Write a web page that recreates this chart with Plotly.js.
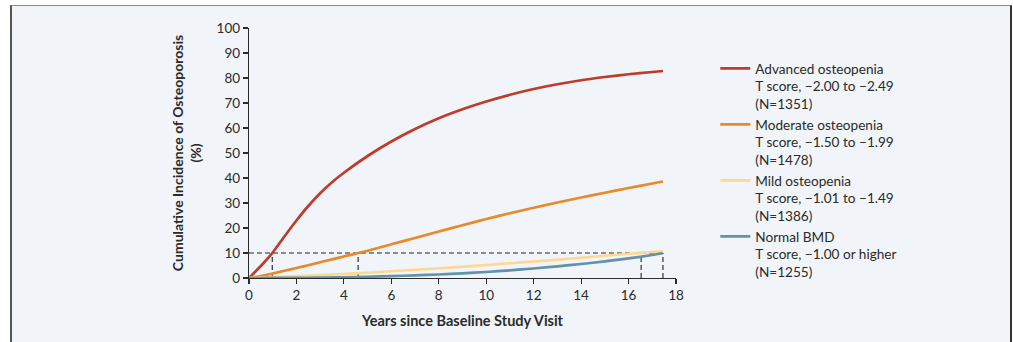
<!DOCTYPE html>
<html>
<head>
<meta charset="utf-8">
<script src="https://cdn.plot.ly/plotly-3.0.1.min.js"></script>
<style>
  html, body { margin: 0; padding: 0; background: #ffffff; width: 1013px; height: 342px; overflow: hidden; }
  #frame { position: absolute; left: 10px; top: 5px; width: 998px; height: 400px; background: #F1F4F8;
           border-left: 2px solid #555; border-top: 1px solid #888; border-right: 2px solid #333; }
  #chart { position: absolute; left: 0; top: 0; width: 1013px; height: 342px; }
</style>
</head>
<body>
<div id="frame"></div>
<div id="chart"></div>
<script>
const years = [0, 0.5, 1, 1.5, 2, 2.5, 3, 3.5, 4, 5, 6, 7, 8, 9, 10, 11, 12, 13, 14, 15, 16, 17, 17.45];

const advanced = [0, 4.8, 10.2, 16.7, 23.0, 28.8, 33.9, 38.3, 42.1, 48.8, 54.6, 59.6, 63.9, 67.5, 70.6, 73.3, 75.6, 77.5, 79.1, 80.4, 81.5, 82.4, 82.8];
const moderate = [0, 0.8, 1.8, 2.9, 4, 5.1, 6.3, 7.45, 8.6, 10.9, 13.5, 16, 18.6, 21.1, 23.6, 25.9, 28.1, 30.2, 32.2, 34.1, 36, 37.8, 38.6];
const mild     = [0, 0.2, 0.4, 0.6, 0.8, 1.0, 1.2, 1.4, 1.6, 2.1, 2.7, 3.3, 3.9, 4.5, 5.2, 5.9, 6.6, 7.3, 8.1, 8.9, 9.7, 10.4, 10.7];
const normal   = [0, 0.01, 0.02, 0.05, 0.08, 0.11, 0.15, 0.22, 0.3, 0.5, 0.75, 1.05, 1.4, 1.85, 2.4, 3.05, 3.8, 4.65, 5.6, 6.65, 7.85, 9.2, 9.9];

const seriesNames = [
  "Advanced osteopenia<br>T score, \u22122.00 to \u22122.49<br>(N=1351)",
  "Moderate osteopenia<br>T score, \u22121.50 to \u22121.99<br>(N=1478)",
  "Mild osteopenia<br>T score, \u22121.01 to \u22121.49<br>(N=1386)",
  "Normal BMD<br>T score, \u22121.00 or higher<br>(N=1255)"
];
const seriesColors = ["#BF3B2C", "#E8892A", "#FCD98E", "#6392AA"];

const threshold = 10;
const crossYears = [0.98, 4.6, 16.53, 17.45];

const xTicks = [0, 2, 4, 6, 8, 10, 12, 14, 16, 18];
const yTicks = [0, 10, 20, 30, 40, 50, 60, 70, 80, 90, 100];

const FONT = "Lato, 'Open Sans', sans-serif";
const ink = "#2b2b2b";

const allSeries = [advanced, moderate, mild, normal];
const traces = allSeries.map((vals, i) => ({
  x: years, y: vals, type: "scatter", mode: "lines",
  name: seriesNames[i],
  line: { color: seriesColors[i], width: 2.7, shape: "spline", smoothing: 0.7 },
  hoverinfo: "skip"
}));

const dash = { color: "#222", width: 1.1, dash: "5px,3px" };
const shapes = [{
  type: "line", xref: "x", yref: "y", x0: 0, x1: crossYears[crossYears.length - 1], y0: threshold, y1: threshold,
  line: dash, layer: "below"
}].concat(crossYears.map(cx => ({
  type: "line", xref: "x", yref: "y", x0: cx, x1: cx, y0: 0, y1: threshold, line: dash, layer: "below"
})));

const layout = {
  width: 1013, height: 342,
  paper_bgcolor: "rgba(0,0,0,0)", plot_bgcolor: "rgba(0,0,0,0)",
  margin: { l: 249, r: 337, t: 28, b: 64, pad: 0 },
  font: { family: FONT, size: 13.5, color: ink },
  showlegend: true,
  legend: {
    x: 1.092, y: 0.9, xanchor: "left", yanchor: "top",
    bgcolor: "rgba(0,0,0,0)", font: { family: FONT, size: 13.6, color: ink },
    valign: "top", tracegroupgap: 0
  },
  xaxis: {
    range: [0, 18], tickvals: xTicks, ticktext: xTicks.map(String),
    showgrid: false, zeroline: false, showline: true, linecolor: ink, linewidth: 1.2,
    ticks: "outside", ticklen: 5, tickcolor: ink, tickwidth: 1.2,
    tickfont: { family: FONT, size: 13.5, color: ink },
    title: { text: "<b>Years since Baseline Study Visit</b>", font: { family: FONT, size: 14.5, color: ink }, standoff: 13 },
    fixedrange: true
  },
  yaxis: {
    range: [0, 100], tickvals: yTicks, ticktext: yTicks.map(String),
    showgrid: false, zeroline: false, showline: true, linecolor: ink, linewidth: 1.2,
    ticks: "outside", ticklen: 5, tickcolor: ink, tickwidth: 1.2,
    tickfont: { family: FONT, size: 13.5, color: ink },
    title: { text: "<b>Cumulative Incidence of Osteoporosis<br>(%)</b>", font: { family: FONT, size: 14, color: ink }, standoff: 11 },
    fixedrange: true
  },
  shapes: shapes
};

Plotly.newPlot("chart", traces, layout, { displayModeBar: false, staticPlot: true });
</script>
</body>
</html>
